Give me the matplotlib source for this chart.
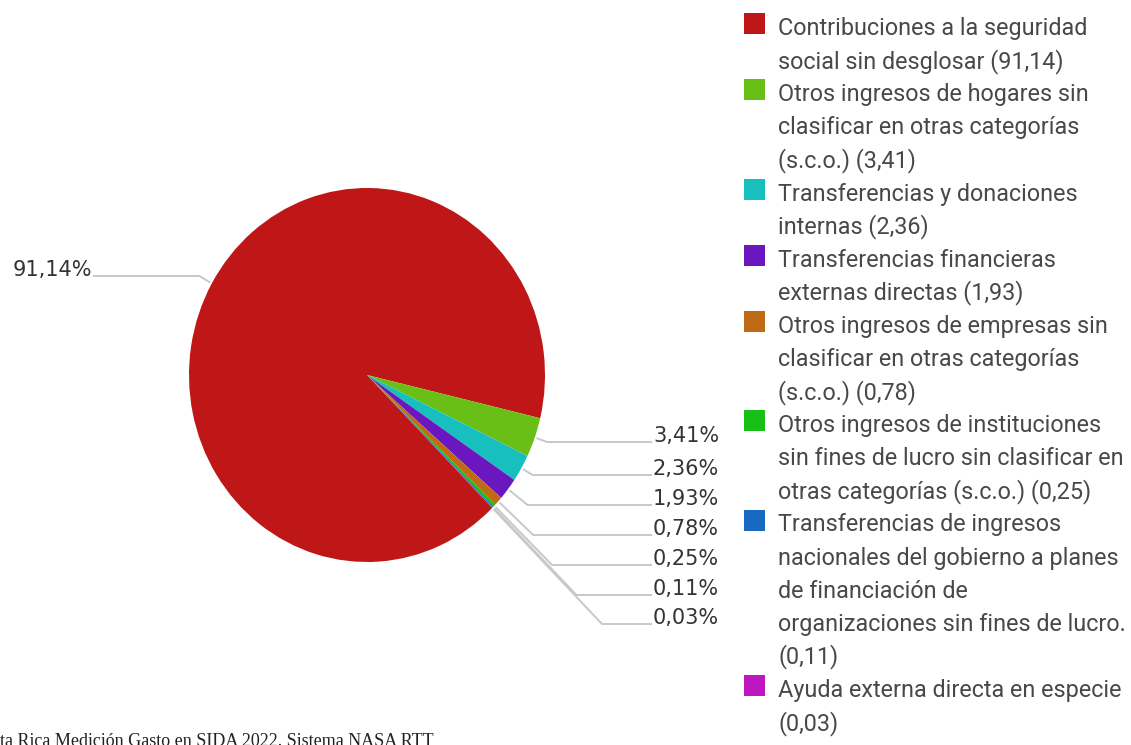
import numpy as np
import matplotlib.pyplot as plt
from matplotlib.patches import Rectangle

# data
names = ["Contribuciones a la seguridad\nsocial sin desglosar",
         "Otros ingresos de hogares sin\nclasificar en otras categorías\n(s.c.o.)",
         "Transferencias y donaciones\ninternas",
         "Transferencias financieras\nexternas directas",
         "Otros ingresos de empresas sin\nclasificar en otras categorías\n(s.c.o.)",
         "Otros ingresos de instituciones\nsin fines de lucro sin clasificar en\notras categorías (s.c.o.)",
         "Transferencias de ingresos\nnacionales del gobierno a planes\nde financiación de\norganizaciones sin fines de lucro.\n",
         "Ayuda externa directa en especie\n"]
values = [91.14, 3.41, 2.36, 1.93, 0.78, 0.25, 0.11, 0.03]
colors = ["#BF1717", "#6ABF17", "#17BFBF", "#6A17BF", "#BF6A17", "#17BF17", "#176ABF", "#BF17BF"]
source = "ta Rica Medición Gasto en SIDA 2022. Sistema NASA RTT"


def fmt(v):
    return f"{v:.2f}".replace(".", ",")


W, H = 1131, 745
fig = plt.figure(figsize=(W / 100, H / 100), dpi=100)

# pie axes (slightly taller than wide, like the reference)
cx, cy, rx, ry = 367, 375, 178, 187
ax = fig.add_axes([(cx - rx) / W, (H - cy - ry) / H, 2 * rx / W, 2 * ry / H])
wedges, _ = ax.pie(values, colors=colors, startangle=-45.3, counterclock=False,
                   wedgeprops=dict(linewidth=0))
ax.set_aspect("auto")
ax.set_xlim(-1, 1)
ax.set_ylim(-1, 1)
ax.axis("off")

# overlay in pixel coords
ov = fig.add_axes([0, 0, 1, 1], zorder=5)
ov.set_xlim(0, W)
ov.set_ylim(H, 0)
ov.axis("off")

to_px = lambda x, y: ov.transData.inverted().transform(ax.transData.transform((x, y)))

# label layout (text centre y, pixels)
label_y = [270, 436, 469, 499, 529, 559, 589, 618]
right_x = 652
for i, w in enumerate(wedges):
    mid = np.deg2rad((w.theta1 + w.theta2) / 2)
    x0, y0 = to_px(1.01 * np.cos(mid), 1.01 * np.sin(mid))
    ly = label_y[i] + 6
    t = (ly - cy) / (y0 - cy)
    xe = cx + t * (x0 - cx)
    xs = [x0, xe, 93] if i == 0 else [x0, xe, right_x]
    ov.plot(xs, [y0, ly, ly], color="#c8c8c8", lw=1.4, solid_capstyle="butt")
    txt = fmt(values[i]) + "%"
    if i == 0:
        ov.text(92, label_y[i], txt, ha="right", va="center", fontsize=15,
                family="DejaVu Sans", color="#333333")
    else:
        ov.text(right_x + 1, label_y[i], txt, ha="left", va="center", fontsize=15,
                family="DejaVu Sans", color="#333333")

# legend drawn line by line
line_h = 33.1
first_base = 35
k = 0
for i, name in enumerate(names):
    sep = "" if name.endswith("\n") else " "
    lines = (name + sep + f"({fmt(values[i])})").split("\n")
    ov.add_patch(Rectangle((744, first_base + k * line_h - 22), 21, 21,
                           facecolor=colors[i], edgecolor="none"))
    for ln in lines:
        ov.text(778, first_base + k * line_h, ln, ha="left", va="baseline",
                fontsize=16.8, family="Roboto", color="#484848")
        k += 1

fig.text(0, 1 - 733 / H, source, ha="left", va="top", fontsize=13,
         family="Liberation Serif", color="#222222")

fig.savefig("out.png", dpi=100)
